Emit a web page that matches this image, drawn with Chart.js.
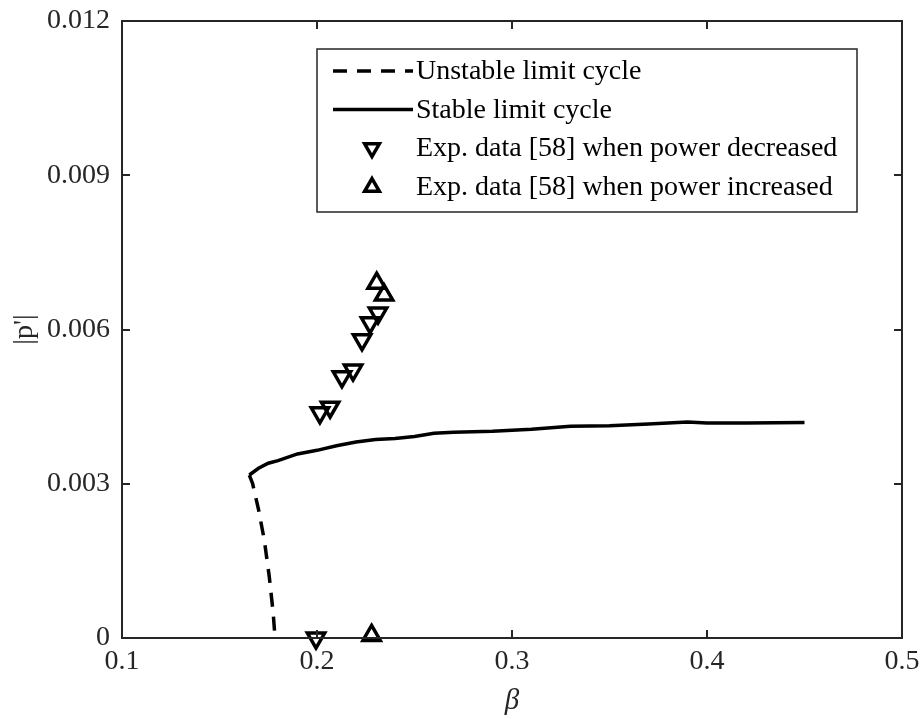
<!DOCTYPE html>
<html>
<head>
<meta charset="utf-8">
<script src="https://cdn.jsdelivr.net/npm/chart.js@4.4.1/dist/chart.umd.min.js"></script>
<style>
html, body { margin: 0; padding: 0; background: #fff; }
</style>
</head>
<body>
<canvas id="chart" width="923" height="719"></canvas>
<script>
// unstable branch of the limit cycle (dashed)
const unstableBeta = [0.1653, 0.1670, 0.1700, 0.1730, 0.1755, 0.1775, 0.1785]
const unstableP = [0.00317, 0.00300, 0.00250, 0.00190, 0.00120, 0.00050, 0.0]

// stable branch (solid)
const stableBeta = [0.1653, 0.170, 0.175, 0.180, 0.190, 0.200, 0.210, 0.220, 0.230, 0.240, 0.250, 0.260, 0.270, 0.290, 0.310, 0.330, 0.350, 0.370, 0.390, 0.400, 0.420, 0.450]
const stableP = [0.00317, 0.00330, 0.00340, 0.00345, 0.00358, 0.00365, 0.00374, 0.00381, 0.00386, 0.00388, 0.00392, 0.00398, 0.00400, 0.00402, 0.00406, 0.00412, 0.00413, 0.00416, 0.00420, 0.00418, 0.00418, 0.00419]

// experiments, power decreased
const decBeta = [0.1995, 0.2015, 0.2067, 0.2128, 0.2185, 0.2231, 0.2272, 0.2313]
const decP = [0.0, 0.00438, 0.00449, 0.00508, 0.00521, 0.00580, 0.00613, 0.00632]

// experiments, power increased
const incBeta = [0.2280, 0.2306, 0.2344]
const incP = [0.00005, 0.00690, 0.00667]

const xTicks = [0.1, 0.2, 0.3, 0.4, 0.5]
const yTicks = [0, 0.003, 0.006, 0.009, 0.012]

const AXIS = '#262626'
const FONT = '"Liberation Serif", "Times New Roman", serif'

const pts = (xs, ys) => xs.map((x, i) => ({ x, y: ys[i] }))

// box axes with inward ticks on all four sides, plus the boxed legend
const framePlugin = {
    id: 'frame',
    afterDraw(chart) {
        const { ctx, chartArea: a, scales } = chart
        ctx.save()
        ctx.strokeStyle = AXIS
        ctx.lineWidth = 2
        ctx.strokeRect(a.left, a.top, a.right - a.left, a.bottom - a.top)
        const t = 8
        ctx.beginPath()
        xTicks.forEach(v => {
            const px = Math.round(scales.x.getPixelForValue(v))
            ctx.moveTo(px, a.bottom); ctx.lineTo(px, a.bottom - t)
            ctx.moveTo(px, a.top); ctx.lineTo(px, a.top + t)
        })
        yTicks.forEach(v => {
            const py = Math.round(scales.y.getPixelForValue(v))
            ctx.moveTo(a.left, py); ctx.lineTo(a.left + t, py)
            ctx.moveTo(a.right, py); ctx.lineTo(a.right - t, py)
        })
        ctx.stroke()

        // legend
        const box = { left: 317, top: 49, width: 540, height: 163 }
        ctx.fillStyle = '#fff'
        ctx.fillRect(box.left, box.top, box.width, box.height)
        ctx.lineWidth = 1.5
        ctx.strokeStyle = AXIS
        ctx.strokeRect(box.left, box.top, box.width, box.height)

        const rows = [71, 109.5, 148, 187]
        ctx.font = '28px ' + FONT
        ctx.textBaseline = 'middle'
        ctx.textAlign = 'left'
        chart.data.datasets.forEach((ds, i) => {
            const y = rows[i]
            ctx.strokeStyle = '#000'
            if (ds.showLine === false) {
                ctx.setLineDash([])
                ctx.fillStyle = 'rgba(0,0,0,0)'
                Chart.helpers.drawPoint(ctx, {
                    pointStyle: ds.pointStyle,
                    rotation: ds.rotation,
                    radius: 8.5,
                    borderWidth: 3.5
                }, 372, y)
            } else {
                ctx.lineWidth = ds.borderWidth
                ctx.setLineDash(ds.borderDash || [])
                ctx.beginPath()
                ctx.moveTo(333, y)
                ctx.lineTo(413, y)
                ctx.stroke()
                ctx.setLineDash([])
            }
            ctx.fillStyle = '#000'
            ctx.fillText(ds.label, 416, y + 1)
        })
        ctx.restore()
    }
}

const tickFont = { family: FONT, size: 28 }

new Chart(document.getElementById('chart'), {
    type: 'scatter',
    data: {
        datasets: [
            {
                label: 'Unstable limit cycle',
                data: pts(unstableBeta, unstableP),
                showLine: true,
                borderColor: '#000',
                borderWidth: 3.5,
                borderDash: [14, 10],
                pointRadius: 0
            },
            {
                label: 'Stable limit cycle',
                data: pts(stableBeta, stableP),
                showLine: true,
                borderColor: '#000',
                borderWidth: 3.5,
                pointRadius: 0
            },
            {
                label: 'Exp. data [58] when power decreased',
                data: pts(decBeta, decP),
                showLine: false,
                pointStyle: 'triangle',
                rotation: 180,
                pointRadius: 10,
                pointBorderWidth: 3.5,
                borderColor: '#000',
                backgroundColor: 'rgba(0,0,0,0)'
            },
            {
                label: 'Exp. data [58] when power increased',
                data: pts(incBeta, incP),
                showLine: false,
                pointStyle: 'triangle',
                rotation: 0,
                pointRadius: 10,
                pointBorderWidth: 3.5,
                borderColor: '#000',
                backgroundColor: 'rgba(0,0,0,0)'
            }
        ]
    },
    options: {
        responsive: false,
        animation: false,
        clip: false,
        layout: { padding: { top: 21, right: 21, left: 0, bottom: 0 } },
        plugins: {
            legend: { display: false },
            tooltip: { enabled: false }
        },
        scales: {
            x: {
                type: 'linear',
                min: 0.1,
                max: 0.5,
                grid: { display: false, drawTicks: false },
                border: { display: false },
                afterBuildTicks: s => { s.ticks = xTicks.map(v => ({ value: v })) },
                afterFit: s => {
                    s.height = 81
                    s.paddingLeft = 0
                    s.paddingRight = 0
                },
                ticks: {
                    font: tickFont,
                    color: AXIS,
                    padding: 7,
                    maxRotation: 0,
                    callback: v => v.toFixed(1)
                },
                title: {
                    display: true,
                    text: 'β',
                    color: AXIS,
                    font: { family: FONT, size: 29, style: 'italic' },
                    padding: { top: 0, bottom: 0 }
                }
            },
            y: {
                type: 'linear',
                min: 0,
                max: 0.012,
                grid: { display: false, drawTicks: false },
                border: { display: false },
                afterBuildTicks: s => { s.ticks = yTicks.map(v => ({ value: v })) },
                afterFit: s => {
                    s.width = 122
                    s.paddingTop = 0
                    s.paddingBottom = 0
                },
                ticks: {
                    font: tickFont,
                    color: AXIS,
                    padding: 12,
                    callback: v => v === 0 ? '0' : v.toFixed(3)
                },
                title: {
                    display: true,
                    text: "|p'|",
                    color: AXIS,
                    font: { family: FONT, size: 28 },
                    padding: { top: 8, bottom: 0 }
                }
            }
        }
    },
    plugins: [framePlugin]
})
</script>
</body>
</html>
